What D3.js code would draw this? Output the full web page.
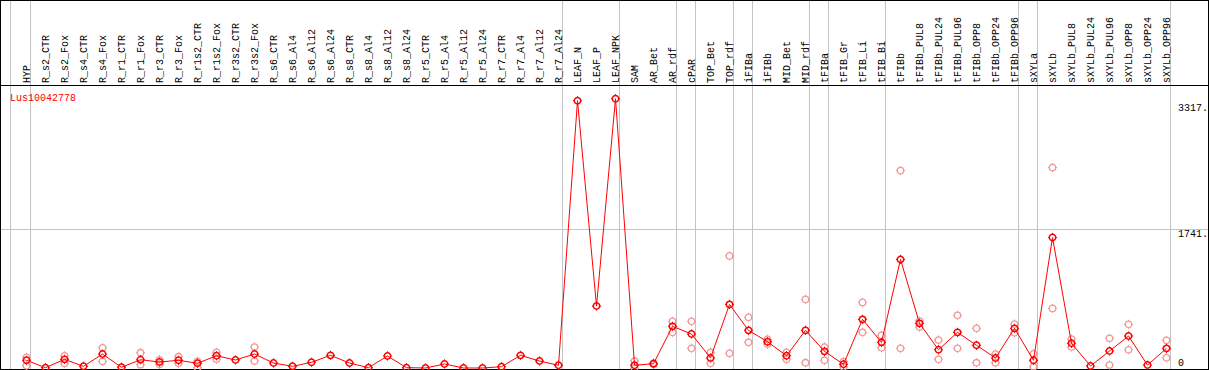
<!DOCTYPE html>
<html>
<head>
<meta charset="utf-8">
<script src="https://cdn.jsdelivr.net/npm/d3@7"></script>
<style>
  body { margin: 0; background: #fff; }
  svg { display: block; }
</style>
</head>
<body>
<div id="chart"></div>
<script>
// sample names, one column each
const samples = ["HYP", "R_s2_CTR", "R_s2_Fox", "R_s4_CTR", "R_s4_Fox", "R_r1_CTR", "R_r1_Fox",
  "R_r3_CTR", "R_r3_Fox", "R_r1s2_CTR", "R_r1s2_Fox", "R_r3s2_CTR", "R_r3s2_Fox",
  "R_s6_CTR", "R_s6_Al4", "R_s6_Al12", "R_s6_Al24", "R_s8_CTR", "R_s8_Al4", "R_s8_Al12", "R_s8_Al24",
  "R_r5_CTR", "R_r5_Al4", "R_r5_Al12", "R_r5_Al24", "R_r7_CTR", "R_r7_Al4", "R_r7_Al12", "R_r7_Al24",
  "LEAF_N", "LEAF_P", "LEAF_NPK", "SAM", "AR_Bet", "AR_rdf", "cPAR", "TOP_Bet", "TOP_rdf",
  "iFIBa", "iFIBb", "MID_Bet", "MID_rdf", "tFIBa", "tFIB_Gr", "tFIB_Li", "tFIB_Bi", "tFIBb",
  "tFIBb_PUL8", "tFIBb_PUL24", "tFIBb_PUL96", "tFIBb_OPP8", "tFIBb_OPP24", "tFIBb_OPP96",
  "sXYLa", "sXYLb", "sXYLb_PUL8", "sXYLb_PUL24", "sXYLb_PUL96", "sXYLb_OPP8", "sXYLb_OPP24", "sXYLb_OPP96"];

// mean expression per sample
const meanValues = [96, 4, 108, 21, 174, 9, 103, 75, 96, 59, 153, 100, 174,
  62, 21, 71, 158, 62, 4, 150, 4, 0, 50, 0, 0, 16, 158, 87, 34,
  3336, 773, 3361, 34, 54, 520, 424, 125, 794,
  470, 328, 153, 470, 208, 46, 607, 320, 1355,
  557, 228, 445, 283, 125, 495,
  96, 1629, 308, 25, 212, 399, 37, 245];

// replicates (null = not shown)
const rep1 = [133, null, 153, null, 253, null, 191, 103, 141, 83, 196, null, 262,
  null, null, null, null, null, null, null, null, null, null, null, null, null, null, null, null,
  null, null, null, 87, 62, 582, 582, 196, 1399,
  632, 358, 196, 856, 262, 79, 819, 407, 2464,
  586, 349, 657, 495, 174, 548,
  178, 2501, 361, null, 370, 545, null, 345];
const rep2 = [29, null, 59, null, 83, null, 41, 46, 59, 4, 110, null, 87,
  null, null, null, null, null, null, null, null, null, null, null, null, null, null, null, null,
  null, null, null, 0, 46, 445, 245, 59, 183,
  320, 298, 110, 66, 96, 13, 445, 253, 245,
  511, 108, 245, 66, 66, 440,
  16, 744, 262, null, 37, 228, null, 128];

// group separators drawn after these samples
const separatorsAfter = ["HYP", "R_r7_Al24", "LEAF_NPK", "AR_rdf", "cPAR", "TOP_rdf", "iFIBa",
  "MID_rdf", "tFIBa", "tFIB_Bi", "tFIBb_OPP96", "sXYLa", "sXYLb_OPP96"];

const yTicks = [0, 1741, 3317];
const gridTicks = [1741];
const geneName = "Lus10042778";

const width = 1209, height = 370;
const font = "'Liberation Mono', 'DejaVu Sans Mono', monospace";

const svg = d3.select("#chart").append("svg")
  .attr("width", width)
  .attr("height", height)
  .style("font-family", font)
  .style("font-size", "10px");

const x = d3.scalePoint().domain(samples).range([26.5, 1166.5]);
const y = d3.scaleLinear().domain([0, 1741]).range([368, 228.5]);

// gray separators (full height)
const sepX = [x(samples[0]) - 16].concat(separatorsAfter.map(s => x(s) + 4));
svg.append("g")
  .selectAll("line")
  .data(sepX)
  .join("line")
  .attr("x1", d => Math.round(d - 0.5) + 0.5)
  .attr("x2", d => Math.round(d - 0.5) + 0.5)
  .attr("y1", 0).attr("y2", height)
  .attr("stroke", "#c4c4c4")
  .attr("shape-rendering", "crispEdges");

// horizontal grid
svg.append("g")
  .selectAll("line")
  .data(gridTicks)
  .join("line")
  .attr("x1", 0).attr("x2", width)
  .attr("y1", d => Math.round(y(d)) + 0.5)
  .attr("y2", d => Math.round(y(d)) + 0.5)
  .attr("stroke", "#c4c4c4")
  .attr("shape-rendering", "crispEdges");

// frame
svg.append("rect")
  .attr("x", 0.5).attr("y", 0.5)
  .attr("width", 1208).attr("height", 369)
  .attr("fill", "none")
  .attr("stroke", "#000")
  .attr("shape-rendering", "crispEdges");
svg.append("line")
  .attr("x1", 0).attr("x2", width)
  .attr("y1", 85.5).attr("y2", 85.5)
  .attr("stroke", "#000")
  .attr("shape-rendering", "crispEdges");

// sample labels, rotated
svg.append("g")
  .selectAll("text")
  .data(samples)
  .join("text")
  .attr("transform", d => `translate(${x(d) + 3},83) rotate(-90)`)
  .attr("fill", "#000")
  .text(d => d);

// gene name
svg.append("text")
  .attr("x", 10).attr("y", 101)
  .attr("fill", "#ff0000")
  .text(geneName);

// y tick labels on the right
svg.append("g")
  .selectAll("text")
  .data(yTicks)
  .join("text")
  .attr("x", 1178)
  .attr("y", d => Math.min(y(d) + 8.5, 366))
  .attr("fill", "#000")
  .text(d => d === 0 ? "0" : d + ".");

// marker: circle with four small ticks
function marker(g, color, sw) {
  g.append("circle")
    .attr("r", 3.2)
    .attr("fill", "none")
    .attr("stroke", color)
    .attr("stroke-width", sw);
  g.append("path")
    .attr("d", "M0,-3.2V-4.6M0,3.2V4.6M-3.2,0H-4.6M3.2,0H4.6")
    .attr("stroke", color)
    .attr("stroke-width", 1);
}

const reps = [];
samples.forEach((s, i) => {
  if (rep1[i] != null) reps.push({ s, v: rep1[i] });
  if (rep2[i] != null) reps.push({ s, v: rep2[i] });
});

svg.append("g")
  .selectAll("g")
  .data(reps)
  .join("g")
  .attr("transform", d => `translate(${x(d.s)},${y(d.v)})`)
  .each(function () { marker(d3.select(this), "#f09a9a", 1.3); });

const means = samples.map((s, i) => ({ s, v: meanValues[i] }));

svg.append("path")
  .datum(means)
  .attr("fill", "none")
  .attr("stroke", "#ff0000")
  .attr("stroke-width", 1)
  .attr("d", d3.line().x(d => x(d.s)).y(d => y(d.v)));

svg.append("g")
  .selectAll("g")
  .data(means)
  .join("g")
  .attr("transform", d => `translate(${x(d.s)},${y(d.v)})`)
  .each(function () { marker(d3.select(this), "#ff0000", 1.5); });
</script>
</body>
</html>
